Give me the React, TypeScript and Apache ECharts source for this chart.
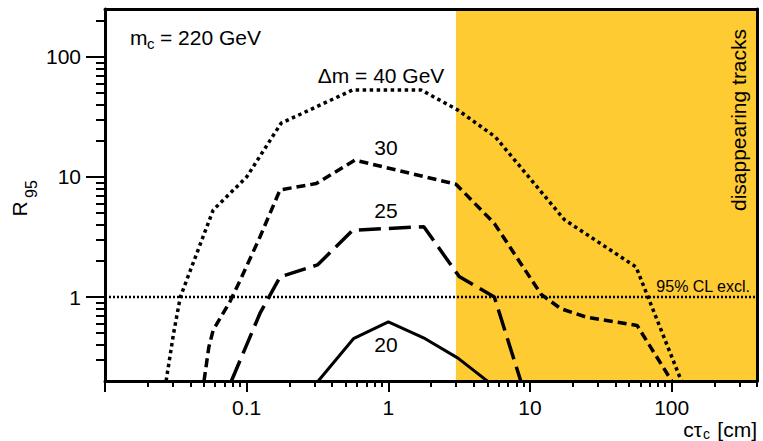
import React, { useEffect, useRef } from 'react';
import * as echarts from 'echarts';

// ---- axis ranges and ticks ----
const X_MIN = 0.01;
const X_MAX = 400;
const Y_MIN = 0.2;
const Y_MAX = 250;

const xMajorTicks = [0.01, 0.1, 1, 10, 100];
const xTickValues = [0.1, 1, 10, 100];
const xTickLabels = ['0.1', '1', '10', '100'];
const xMinorTicks = [
  0.02, 0.03, 0.04, 0.05, 0.06, 0.07, 0.08, 0.09,
  0.2, 0.3, 0.4, 0.5, 0.6, 0.7, 0.8, 0.9,
  2, 3, 4, 5, 6, 7, 8, 9,
  20, 30, 40, 50, 60, 70, 80, 90,
  200, 300, 400,
];
const yTickValues = [1, 10, 100];
const yTickLabels = ['1', '10', '100'];
const yMinorTicks = [
  0.3, 0.4, 0.5, 0.6, 0.7, 0.8, 0.9,
  2, 3, 4, 5, 6, 7, 8, 9,
  20, 30, 40, 50, 60, 70, 80, 90,
  200,
];

// ---- data: [c tau (cm), R95] ----
const dm40: [number, number][] = [
  [0.027, 0.2], [0.0305, 0.5], [0.034, 1.0], [0.058, 5.3], [0.1, 10],
  [0.175, 28], [0.56, 53], [1.7, 53], [3.1, 36], [5.7, 21.5],
  [17.5, 4.4], [56, 1.78], [117, 0.2],
];
const dm30: [number, number][] = [
  [0.05, 0.2], [0.054, 0.38], [0.058, 0.53], [0.076, 0.91], [0.09, 1.38],
  [0.124, 3.16], [0.172, 7.8], [0.31, 8.8], [0.58, 13.8], [3.0, 8.7],
  [5.6, 4.1], [12, 1.05], [16.5, 0.8], [25, 0.68], [57, 0.58], [100, 0.2],
];
const dm25: [number, number][] = [
  [0.078, 0.2], [0.124, 0.73], [0.172, 1.47], [0.316, 1.85], [0.56, 3.6],
  [1.78, 3.85], [3.16, 1.48], [5.6, 1.0], [8.6, 0.2],
];
const dm20: [number, number][] = [
  [0.32, 0.2], [0.567, 0.45], [1, 0.62], [1.82, 0.45], [3.1, 0.31], [5.6, 0.18],
];
const clLevel = 1; // 95% CL exclusion
const bandRange: [number, number] = [3, 400]; // disappearing tracks region

const FONT = "'Liberation Sans', Arial, Helvetica, sans-serif";

function labelFor(values: number[], labels: string[], v: number): string {
  const i = values.findIndex((t) => Math.abs(Math.log10(t) - Math.log10(v)) < 1e-6);
  return i >= 0 ? labels[i] : '';
}

function txt(text: string, x: number, y: number, size: number, align: string, rot = 0) {
  return {
    type: 'text',
    x,
    y,
    rotation: rot,
    silent: true,
    z: 20,
    style: {
      text,
      fontSize: size,
      fontFamily: FONT,
      fill: '#000',
      align,
      verticalAlign: 'middle',
      textAlign: align,
      textVerticalAlign: 'middle',
    },
  };
}

export default function App() {
  const ref = useRef<HTMLDivElement>(null);
  useEffect(() => {
    if (!ref.current) return;
    const chart = echarts.init(ref.current, undefined, { renderer: 'svg' });
    const axisLine = { show: true, onZero: false, lineStyle: { color: '#000', width: 3 } };
    const gridBox = { left: 105, right: 6, top: 9, bottom: 60, containLabel: false };
    const lineSeries = (data: [number, number][], type: any, width: number) => ({
      type: 'line',
      data,
      symbol: 'none',
      clip: true,
      silent: true,
      z: 5,
      lineStyle: { color: '#000', width, type, cap: 'butt' },
    });
    chart.setOption({
      animation: false,
      grid: [gridBox, gridBox],
      xAxis: [
        {
          type: 'log',
          logBase: 10,
          gridIndex: 0,
          min: X_MIN,
          max: X_MAX,
          position: 'bottom',
          z: 10,
          axisLine,
          axisTick: { show: true, inside: false, length: 11, customValues: xMajorTicks, lineStyle: { color: '#000', width: 2 } },
          axisLabel: {
            show: true,
            customValues: xTickValues,
            margin: 16,
            fontSize: 21,
            fontFamily: FONT,
            color: '#000',
            formatter: (v: number) => labelFor(xTickValues, xTickLabels, v),
          },
          splitLine: { show: false },
        },
        {
          type: 'log',
          logBase: 10,
          gridIndex: 0,
          min: X_MIN,
          max: X_MAX,
          position: 'top',
          z: 10,
          axisLine,
          axisTick: { show: false },
          axisLabel: { show: false },
          splitLine: { show: false },
        },
        {
          // minor ticks
          type: 'log',
          logBase: 10,
          gridIndex: 1,
          min: X_MIN,
          max: X_MAX,
          position: 'bottom',
          z: 10,
          axisLine: { show: false, onZero: false },
          axisTick: { show: true, inside: false, length: 6, customValues: xMinorTicks, lineStyle: { color: '#000', width: 2 } },
          axisLabel: { show: false },
          splitLine: { show: false },
        },
      ],
      yAxis: [
        {
          type: 'log',
          logBase: 10,
          gridIndex: 0,
          min: Y_MIN,
          max: Y_MAX,
          position: 'left',
          z: 10,
          axisLine,
          axisTick: { show: true, inside: false, length: 19, customValues: yTickValues, lineStyle: { color: '#000', width: 2 } },
          axisLabel: {
            show: true,
            customValues: yTickValues,
            margin: 24,
            fontSize: 21,
            fontFamily: FONT,
            color: '#000',
            formatter: (v: number) => labelFor(yTickValues, yTickLabels, v),
          },
          splitLine: { show: false },
        },
        {
          type: 'log',
          logBase: 10,
          gridIndex: 0,
          min: Y_MIN,
          max: Y_MAX,
          position: 'right',
          z: 10,
          axisLine,
          axisTick: { show: false },
          axisLabel: { show: false },
          splitLine: { show: false },
        },
        {
          // minor ticks
          type: 'log',
          logBase: 10,
          gridIndex: 1,
          min: Y_MIN,
          max: Y_MAX,
          position: 'left',
          z: 10,
          axisLine: { show: false, onZero: false },
          axisTick: { show: true, inside: false, length: 9, customValues: yMinorTicks, lineStyle: { color: '#000', width: 2 } },
          axisLabel: { show: false },
          splitLine: { show: false },
        },
      ],
      series: [
        {
          type: 'custom',
          coordinateSystem: 'cartesian2d',
          xAxisIndex: 0,
          yAxisIndex: 0,
          silent: true,
          z: 1,
          data: [bandRange],
          renderItem: (_p: any, api: any) => {
            const a = api.coord([api.value(0), Y_MAX]);
            const b = api.coord([api.value(1), Y_MIN]);
            return {
              type: 'rect',
              shape: { x: a[0], y: a[1], width: b[0] - a[0], height: b[1] - a[1] },
              style: { fill: '#FFCB33' },
            };
          },
        },
        {
          type: 'line',
          data: [[X_MIN, clLevel], [X_MAX, clLevel]],
          symbol: 'none',
          silent: true,
          z: 4,
          lineStyle: { color: '#000', width: 2.5, type: [2, 2], cap: 'butt' },
        },
        lineSeries(dm40, [3.5, 3.5], 3.5),
        lineSeries(dm30, [9, 5], 3.5),
        lineSeries(dm25, [22, 8], 3.5),
        lineSeries(dm20, 'solid', 3),
        {
          // anchors the minor-tick grid
          type: 'line',
          xAxisIndex: 2,
          yAxisIndex: 2,
          data: [[X_MIN, Y_MIN]],
          symbol: 'none',
          silent: true,
          lineStyle: { opacity: 0 },
        },
      ],
      graphic: [
        txt('m', 130, 37.5, 21, 'left'),
        txt('c', 147, 43, 15, 'left'),
        txt('= 220 GeV', 160, 37.5, 21, 'left'),
        txt('Δm = 40 GeV', 381, 75, 21, 'center'),
        txt('30', 386, 147.5, 21, 'center'),
        txt('25', 386, 210.5, 21, 'center'),
        txt('20', 386, 344.5, 21, 'center'),
        txt('95% CL excl.', 750, 286, 16, 'right'),
        txt('disappearing tracks', 738, 120, 21, 'center', Math.PI / 2),
        txt('R', 19.5, 209, 21, 'center', Math.PI / 2),
        txt('95', 31, 189, 16, 'center', Math.PI / 2),
        txt('[cm]', 757, 429, 21, 'right'),
        txt('cτ', 702, 429, 21, 'right'),
        txt('c', 703, 434, 14, 'left'),
      ],
    });
    return () => chart.dispose();
  }, []);
  return (
    <div
      ref={ref}
      style={{ position: 'fixed', left: 0, top: 0, width: 763, height: 441, background: '#fff' }}
    />
  );
}
